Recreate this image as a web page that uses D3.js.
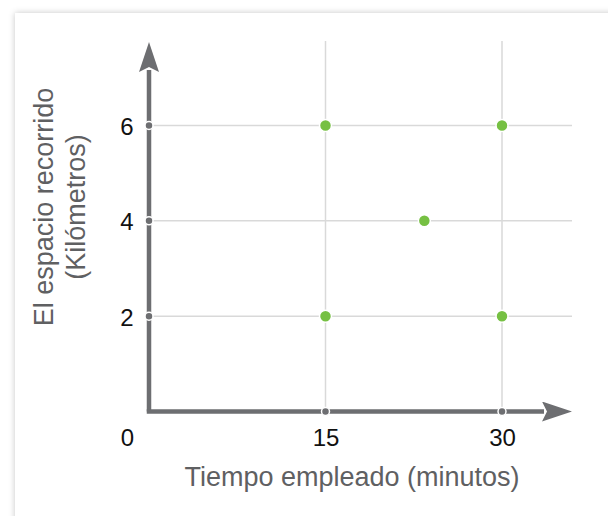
<!DOCTYPE html>
<html>
<head>
<meta charset="utf-8">
<script src="https://cdn.jsdelivr.net/npm/d3@7"></script>
<style>
  body { margin: 0; background: #fff; }
  svg { display: block; font-family: "Liberation Sans", Arial, sans-serif; }
</style>
</head>
<body>
<svg width="608" height="516"></svg>
<script>
// data
var xTicks = [0, 15, 30],
    yTicks = [2, 4, 6];
var timeValues = [15, 30, 23.4, 15, 30],
    distanceValues = [6, 6, 4, 2, 2];
var xTitle = "Tiempo empleado (minutos)",
    yTitleLines = ["El espacio recorrido", "(Kilómetros)"];

var svg = d3.select("svg");

var axisColor = "#6d6e71",
    gridColor = "#d9d9d9",
    dotColor = "#76c043";

var x = d3.scaleLinear().domain([0, 30]).range([149, 502]),
    y = d3.scaleLinear().domain([0, 6]).range([411.5, 125.5]);

// card with soft shadow
var defs = svg.append("defs");
var f = defs.append("filter").attr("id", "shadow")
    .attr("x", "-10%").attr("y", "-10%").attr("width", "120%").attr("height", "120%");
f.append("feDropShadow").attr("dx", 0).attr("dy", 0)
    .attr("stdDeviation", 3).attr("flood-color", "#000").attr("flood-opacity", 0.22);

svg.append("rect")
    .attr("x", 15).attr("y", 13)
    .attr("width", 640).attr("height", 560)
    .attr("fill", "#fff")
    .attr("filter", "url(#shadow)");

// arrow heads
defs.append("marker")
    .attr("id", "arrow")
    .attr("viewBox", "0 0 30 20")
    .attr("refX", 2).attr("refY", 10)
    .attr("markerWidth", 30).attr("markerHeight", 20)
    .attr("markerUnits", "userSpaceOnUse")
    .attr("orient", "auto")
  .append("path")
    .attr("d", "M0,0 L30,10 L0,20 L5,10 Z")
    .attr("fill", axisColor);

// grid
svg.append("g").selectAll("line")
    .data(xTicks.filter(function(d) { return d > 0; }))
  .enter().append("line")
    .attr("x1", function(d) { return x(d); })
    .attr("x2", function(d) { return x(d); })
    .attr("y1", 41)
    .attr("y2", y(0))
    .attr("stroke", gridColor)
    .attr("stroke-width", 1.5);

svg.append("g").selectAll("line")
    .data(yTicks)
  .enter().append("line")
    .attr("x1", x(0))
    .attr("x2", 572)
    .attr("y1", function(d) { return y(d); })
    .attr("y2", function(d) { return y(d); })
    .attr("stroke", gridColor)
    .attr("stroke-width", 1.5);

// axis lines with arrows
svg.append("path")
    .attr("d", "M" + x(0) + "," + y(0) + "V70")
    .attr("stroke", axisColor)
    .attr("stroke-width", 4.5)
    .attr("fill", "none")
    .attr("marker-end", "url(#arrow)");

svg.append("path")
    .attr("d", "M" + (x(0) - 2.25) + "," + y(0) + "H544")
    .attr("stroke", axisColor)
    .attr("stroke-width", 4.5)
    .attr("fill", "none")
    .attr("marker-end", "url(#arrow)");

// tick labels via d3 axes
var gx = svg.append("g")
    .attr("transform", "translate(0," + y(0) + ")")
    .call(d3.axisBottom(x).tickValues(xTicks).tickFormat(d3.format("d"))
      .tickSize(0).tickPadding(17));
gx.select(".domain").remove();
gx.selectAll("text")
    .attr("font-size", 24)
    .attr("font-family", "Liberation Sans, Arial, sans-serif")
    .attr("fill", "#111")
    .attr("dx", function(d) { return d === 0 ? -22 : 0; });

var gy = svg.append("g")
    .attr("transform", "translate(" + x(0) + ",0)")
    .call(d3.axisLeft(y).tickValues(yTicks).tickFormat(d3.format("d"))
      .tickSize(0).tickPadding(0));
gy.select(".domain").remove();
gy.selectAll("text")
    .attr("font-size", 24)
    .attr("font-family", "Liberation Sans, Arial, sans-serif")
    .attr("fill", "#111")
    .attr("text-anchor", "middle")
    .attr("x", -22)
    .attr("dy", "0.38em");

// tick dots on axes
svg.append("g").selectAll("circle")
    .data(xTicks.filter(function(d) { return d > 0; }))
  .enter().append("circle")
    .attr("cx", function(d) { return x(d); })
    .attr("cy", y(0))
    .attr("r", 4)
    .attr("fill", axisColor)
    .attr("stroke", "#fff")
    .attr("stroke-width", 1.5);

svg.append("g").selectAll("circle")
    .data(yTicks)
  .enter().append("circle")
    .attr("cx", x(0))
    .attr("cy", function(d) { return y(d); })
    .attr("r", 4)
    .attr("fill", axisColor)
    .attr("stroke", "#fff")
    .attr("stroke-width", 1.5);

// points
svg.append("g").selectAll("circle")
    .data(timeValues)
  .enter().append("circle")
    .attr("cx", function(d) { return x(d); })
    .attr("cy", function(d, i) { return y(distanceValues[i]); })
    .attr("r", 6)
    .attr("fill", dotColor)
    .attr("stroke", "#fff")
    .attr("stroke-width", 1.5);

// titles
svg.append("text")
    .attr("x", 352)
    .attr("y", 486)
    .attr("text-anchor", "middle")
    .attr("font-size", 27)
    .attr("fill", "#5f6062")
    .text(xTitle);

svg.append("text")
    .attr("transform", "translate(53,207) rotate(-90)")
    .attr("text-anchor", "middle")
    .attr("font-size", 27)
    .attr("fill", "#5f6062")
    .selectAll("tspan")
    .data(yTitleLines)
  .enter().append("tspan")
    .attr("x", 0)
    .attr("y", function(d, i) { return i * 32; })
    .text(function(d) { return d; });
</script>
</body>
</html>
